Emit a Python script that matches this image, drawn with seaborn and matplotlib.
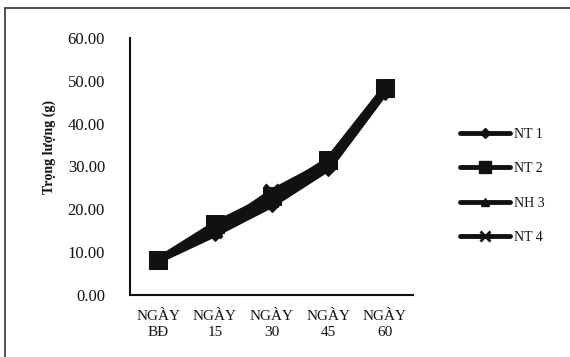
import pandas as pd
import numpy as np
import matplotlib.pyplot as plt
import seaborn as sns
from matplotlib.lines import Line2D

# data
days = ['NGÀY\nBĐ', 'NGÀY\n15', 'NGÀY\n30', 'NGÀY\n45', 'NGÀY\n60']
nt1 = [8.0, 14.2, 21.0, 29.5, 47.2]
nt2 = [8.2, 16.5, 23.0, 31.5, 48.3]
nh3 = [8.1, 15.5, 22.0, 30.8, 47.8]
nt4 = [8.0, 15.0, 24.0, 31.0, 48.0]
series = {'NT 1': nt1, 'NT 2': nt2, 'NH 3': nh3, 'NT 4': nt4}

rows = []
for name, vals in series.items():
    for i, v in enumerate(vals):
        rows.append({'pos': i, 'group': name, 'weight': v})
df = pd.DataFrame(rows)

sns.set_theme(style='white')
plt.rcParams['font.family'] = ['Liberation Serif', 'DejaVu Serif']

fig = plt.figure(figsize=(5.7, 3.57), dpi=100)
ax = fig.add_axes([0.228, 0.174, 0.497, 0.72])

ink = '#111111'
styles = {
    'NT 1': dict(marker='D', markersize=7),
    'NT 2': dict(marker='s', markersize=13),
    'NH 3': dict(marker='^', markersize=9),
    'NT 4': dict(marker='x', markersize=10, markeredgewidth=3),
}
for name in series:
    sub = df[df['group'] == name]
    sns.lineplot(data=sub, x='pos', y='weight', ax=ax, color=ink,
                 linewidth=4.5, label=name, sort=False,
                 markeredgecolor=ink, markerfacecolor=ink, **styles[name])

ax.set_xlim(-0.5, 4.5)
ax.set_ylim(0, 60)
ax.set_yticks(np.arange(0, 61, 10))
ax.set_yticklabels([f'{v:.2f}' for v in np.arange(0, 61, 10)], fontsize=12)
ax.set_xticks(range(len(days)))
ax.set_xticklabels(days, fontsize=11, linespacing=1.25)
ax.tick_params(axis='y', length=0, pad=18, colors=ink)
ax.tick_params(axis='x', length=0, pad=11, colors=ink)
ax.set_xlabel('')
ax.set_ylabel('')
for s in ['top', 'right']:
    ax.spines[s].set_visible(False)
for s in ['left', 'bottom']:
    ax.spines[s].set_color(ink)
    ax.spines[s].set_linewidth(1.5)

fig.text(49 / 570, 1 - 147 / 357, 'Trọng lượng (g)', rotation=90,
         ha='center', va='center', fontsize=10, fontweight='bold', color=ink)

handles, labels = ax.get_legend_handles_labels()
small = {'NT 1': 5, 'NT 2': 8, 'NH 3': 6, 'NT 4': 7}
leg_handles = [Line2D([0], [0], color=ink, linewidth=3.5,
                      marker=styles[l]['marker'], markersize=small[l],
                      markeredgecolor=ink, markerfacecolor=ink,
                      markeredgewidth=2 if l == 'NT 4' else 1) for l in labels]
leg = ax.legend(leg_handles, labels, loc='center left', frameon=False,
                bbox_to_anchor=(447 / 570, 1 - 186 / 357),
                bbox_transform=fig.transFigure, fontsize=10,
                handlelength=3.6, labelspacing=1.55, handletextpad=0.3)
for t in leg.get_texts():
    t.set_color(ink)

# scanned frame edges
fig.add_artist(Line2D([5 / 570, 1], [1 - 8 / 357, 1 - 8 / 357], color='#333333', linewidth=1.2))
fig.add_artist(Line2D([5 / 570, 5 / 570], [0, 1 - 8 / 357], color='#333333', linewidth=1.2))

plt.savefig('out.png', dpi=100)
